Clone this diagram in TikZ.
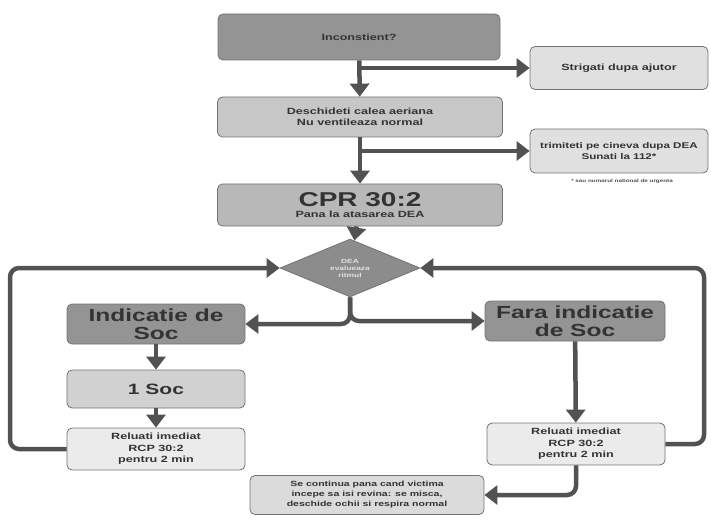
\documentclass[tikz,border=0pt]{standalone}
\usepackage{fontspec}
\setmainfont{Liberation Sans}[FakeStretch=1.4]
\usetikzlibrary{arrows.meta,shapes.geometric}

\tikzset{
  box/.style={draw=black!55, line width=0.8pt, rounded corners=5pt, align=center,
    text=black!80, font=\bfseries\fontsize{9}{10.5}\selectfont, inner sep=1pt},
  darkbox/.style={box, fill=black!42},
  midbox/.style={box, fill=black!28},
  lightbox/.style={box, fill=black!12},
  flow/.style={draw=black!68, line width=4.5pt, rounded corners=9pt,
    -{Triangle[width=19pt,length=13pt]}},
}

\begin{document}
\begin{tikzpicture}[x=1pt,y=-1pt]
\useasboundingbox (0,0) rectangle (711,521);

% Boxes of the first steps
\node[darkbox, minimum width=282pt, minimum height=46pt] (inc) at (359,37) {Inconstient?};
\node[lightbox, minimum width=178pt, minimum height=43pt] (strig) at (619,68) {Strigati dupa ajutor};
\node[lightbox, fill=black!22, minimum width=285pt, minimum height=40pt] (desch) at (360,117)
  {Deschideti calea aeriana\\Nu ventileaza normal};
\node[lightbox, minimum width=178pt, minimum height=44pt,
  font=\bfseries\fontsize{8.3}{10.5}\selectfont] (trim) at (619,151)
  {trimiteti pe cineva dupa DEA\\Sunati la 112*};
\node[font=\bfseries\fontsize{4.5}{5}\selectfont, text=black!70] (note) at (622,181)
  {* sau numarul national de urgenta};
\node[midbox, minimum width=285pt, minimum height=42pt] (cpr) at (360,205)
  {{\fontsize{20}{19}\selectfont CPR 30:2}\\Pana la atasarea DEA};

% Rhythm check
\node[diamond, draw=black!55, fill=black!45, line width=0.8pt, inner sep=0pt,
  minimum width=140pt, minimum height=46pt, align=center, text=black!12,
  font=\bfseries\fontsize{6}{7}\selectfont] (dea) at (350,268)
  {DEA\\evalueaza\\ritmul};

% The two branches
\node[darkbox, minimum width=178pt, minimum height=40pt,
  font=\bfseries\fontsize{17.5}{17.5}\selectfont] (ind) at (156,324) {Indicatie de\\Soc};
\node[darkbox, minimum width=180pt, minimum height=40pt,
  font=\bfseries\fontsize{17.5}{17.5}\selectfont] (fara) at (575,321) {Fara indicatie\\de Soc};
\node[lightbox, fill=black!18, minimum width=178pt, minimum height=38pt,
  font=\bfseries\fontsize{15}{16}\selectfont] (soc) at (156,389) {1 Soc};
\node[lightbox, fill=black!8, minimum width=178pt, minimum height=42pt,
  font=\bfseries\fontsize{9}{11.5}\selectfont] (relL) at (156,449)
  {Reluati imediat\\RCP 30:2\\pentru 2 min};
\node[lightbox, fill=black!8, minimum width=178pt, minimum height=42pt,
  font=\bfseries\fontsize{9}{11.5}\selectfont] (relR) at (576,444)
  {Reluati imediat\\RCP 30:2\\pentru 2 min};
\node[lightbox, fill=black!14, minimum width=234pt, minimum height=39pt,
  font=\bfseries\fontsize{7.5}{10}\selectfont] (cont) at (367,495)
  {Se continua pana cand victima\\incepe sa isi revina: se misca,\\deschide ochii si respira normal};

% Loop coordinates
\coordinate (loopL) at (10,0);
\coordinate (loopR) at (704,0);

% Main arrows
\draw[flow] (inc) -- (desch);
\draw[flow] (inc.south |- strig.west) -- (strig.west);
\draw[flow] (desch) -- (cpr);
\draw[flow] (desch.south |- trim.west) -- (trim.west);
\draw[flow] (cpr) -- (dea);
\draw[flow] (dea.south) |- (ind.east);
\draw[flow] (dea.south) |- (fara.west);
\draw[flow] (ind) -- (soc);
\draw[flow] (soc) -- (relL);
\draw[flow] (fara) -- (relR);

% Back to the rhythm check
\draw[flow] (relL.west) -| (loopL |- dea.west) -- (dea.west);
\draw[flow] (relR.east) -| (loopR |- dea.east) -- (dea.east);
\draw[flow] (relR.south) |- (cont.east);
\end{tikzpicture}
\end{document}
